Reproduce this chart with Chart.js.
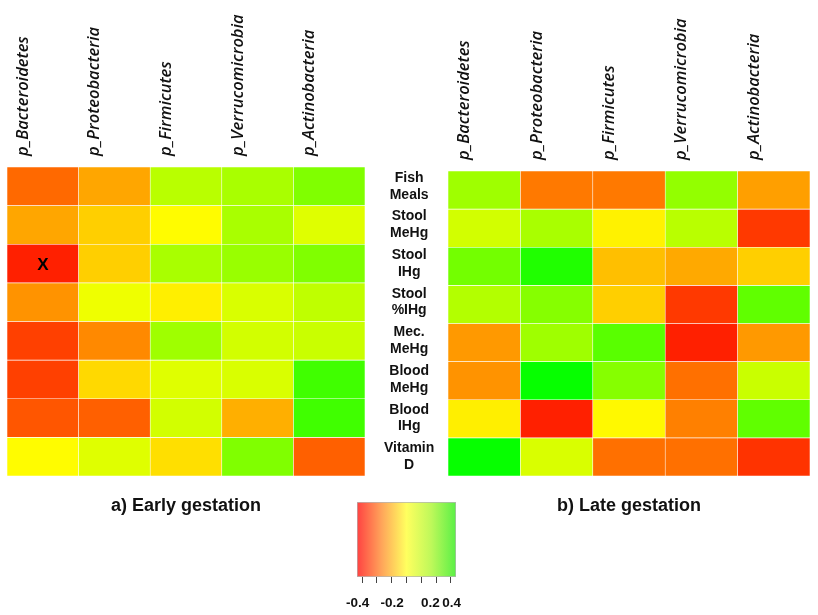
<!DOCTYPE html>
<html>
<head>
<meta charset="utf-8">
<script src="https://cdn.jsdelivr.net/npm/chart.js@4"></script>
<style>
  body { margin: 0; background: #fff; }
  #wrap { position: relative; width: 818px; height: 615px; }
  canvas { position: absolute; }
  #early { left: 0; top: 0; }
  #late { left: 440px; top: 0; }
  #scale { left: 340px; top: 490px; }
</style>
</head>
<body>
<div id="wrap">
  <canvas id="early" width="455" height="525"></canvas>
  <canvas id="late" width="378" height="525"></canvas>
  <canvas id="scale" width="140" height="125"></canvas>
</div>
<script>
// taxa on top, exposures in the middle
const taxa = ['p_Bacteroidetes', 'p_Proteobacteria', 'p_Firmicutes', 'p_Verrucomicrobia', 'p_Actinobacteria'];
const exposures = [['Fish', 'Meals'], ['Stool', 'MeHg'], ['Stool', 'IHg'], ['Stool', '%IHg'],
  ['Mec.', 'MeHg'], ['Blood', 'MeHg'], ['Blood', 'IHg'], ['Vitamin', 'D']];

// correlations, one row per exposure
const earlyFish = [-0.235, -0.14, 0.11, 0.135, 0.2];
const earlyStoolMeHg = [-0.14, -0.075, -0.005, 0.135, 0.05];
const earlyStoolIHg = [-0.35, -0.075, 0.135, 0.16, 0.2];
const earlyStoolPctIHg = [-0.17, 0.025, -0.025, 0.06, 0.1];
const earlyMecMeHg = [-0.3, -0.185, 0.15, 0.07, 0.085];
const earlyBloodMeHg = [-0.3, -0.06, 0.05, 0.06, 0.3];
const earlyBloodIHg = [-0.265, -0.25, 0.07, -0.125, 0.3];
const earlyVitD = [-0.005, 0.05, -0.05, 0.2, -0.25];

const lateFish = [0.15, -0.21, -0.21, 0.17, -0.15];
const lateStoolMeHg = [0.07, 0.135, -0.02, 0.11, -0.31];
const lateStoolIHg = [0.22, 0.35, -0.1, -0.135, -0.075];
const lateStoolPctIHg = [0.12, 0.19, -0.075, -0.31, 0.25];
const lateMecMeHg = [-0.16, 0.15, 0.26, -0.35, -0.16];
const lateBloodMeHg = [-0.17, 0.39, 0.19, -0.225, 0.085];
const lateBloodIHg = [-0.025, -0.35, -0.01, -0.2, 0.25];
const lateVitD = [0.39, 0.06, -0.225, -0.225, -0.32];

// cells flagged in the figure: [row, column]
const flaggedEarly = [[2, 0]];

// colour key: 7 tick marks, 4 labels placed where the figure has them
const keyRange = [-0.445, 0.445];
const keyTickMarks = [-0.4, -0.267, -0.133, 0, 0.133, 0.267, 0.4];
const keyLabelAt = [-0.44, -0.13, 0.215, 0.405];
const keyLabels = ['-0.4', '-0.2', '0.2', '0.4'];

const early = [earlyFish, earlyStoolMeHg, earlyStoolIHg, earlyStoolPctIHg, earlyMecMeHg, earlyBloodMeHg, earlyBloodIHg, earlyVitD];
const late = [lateFish, lateStoolMeHg, lateStoolIHg, lateStoolPctIHg, lateMecMeHg, lateBloodMeHg, lateBloodIHg, lateVitD];

// red -> yellow -> green, saturating at +-0.4
function corrColor(v) {
  let t = Math.max(-1, Math.min(1, v / 0.4));
  if (t < 0) return 'rgb(255,' + Math.round(255 * (1 + t)) + ',0)';
  return 'rgb(' + Math.round(255 * (1 - t)) + ',255,0)';
}

const labelFont = { family: "'Liberation Sans', Arial, sans-serif", weight: 'bold' };

function heatmap(id, values, title, opts) {
  const datasets = values.map((row, r) => ({
    data: row.map(() => [r, r + 1]),
    backgroundColor: row.map(corrColor),
    borderColor: 'rgba(255,255,255,0.45)',
    borderWidth: 0.6,
    borderSkipped: false,
    barPercentage: 1,
    categoryPercentage: 1,
    grouped: false
  }));

  const scales = {
    x: {
      position: 'top',
      grid: { display: false, drawTicks: false },
      border: { display: false },
      ticks: {
        autoSkip: false, minRotation: 90, maxRotation: 90, padding: 11, color: '#111',
        font: { family: "'Open Sans', sans-serif", style: 'italic', weight: '600', size: 16.5 }
      },
      afterFit: s => { s.height = opts.top; }
    },
    y: { display: false, min: 0, max: 8, reverse: true },
    xTitle: {
      type: 'category', labels: taxa, position: 'bottom',
      grid: { display: false, drawTicks: false },
      border: { display: false },
      ticks: { display: false },
      title: {
        display: true, text: title, color: '#111',
        font: Object.assign({ size: 18 }, labelFont),
        padding: { top: 20, bottom: 8 }
      },
      afterFit: s => { s.height = 525 - 476; }
    }
  };
  if (opts.rowLabels) {
    scales.rows = {
      type: 'category', labels: exposures, position: 'right', offset: true,
      grid: { display: false, drawTicks: false },
      border: { display: false },
      ticks: { crossAlign: 'center', padding: 19, color: '#111', font: Object.assign({ size: 14, lineHeight: 1.2 }, labelFont) },
      afterFit: s => { s.width = 90; }
    };
  }

  const plugins = [];
  if (opts.flagged) {
    plugins.push({
      id: 'flags',
      afterDatasetsDraw(chart) {
        const { ctx, scales: { x, y } } = chart;
        ctx.save();
        ctx.font = 'bold 17px "Liberation Sans", Arial, sans-serif';
        ctx.fillStyle = '#000';
        ctx.textAlign = 'center';
        ctx.textBaseline = 'middle';
        opts.flagged.forEach(([r, c]) => {
          ctx.fillText('X', x.getPixelForValue(c), y.getPixelForValue(r + 0.5) + 2);
        });
        ctx.restore();
      }
    });
  }

  return new Chart(document.getElementById(id), {
    type: 'bar',
    data: { labels: taxa, datasets },
    options: {
      responsive: false,
      animation: false,
      layout: { padding: opts.padding },
      plugins: { legend: { display: false }, tooltip: { enabled: false } },
      scales
    },
    plugins
  });
}

heatmap('early', early, 'a) Early gestation', {
  top: 167, rowLabels: true, flagged: flaggedEarly,
  padding: { left: 7, right: 0, top: 0, bottom: 0 }
});
heatmap('late', late, 'b) Late gestation', {
  top: 171,
  padding: { left: 8, right: 8, top: 0, bottom: 0 }
});

// colour key
const keyTicks = keyTickMarks.map(v => ({ value: v, label: '', mark: true }))
  .concat(keyLabelAt.map((v, i) => ({ value: v, label: keyLabels[i], mark: false })))
  .sort((a, b) => a.value - b.value);

new Chart(document.getElementById('scale'), {
  type: 'bar',
  data: {
    labels: [''],
    datasets: [{
      data: [keyRange],
      backgroundColor: c => {
        const area = c.chart.chartArea;
        if (!area) return 'transparent';
        const g = c.chart.ctx.createLinearGradient(area.left, 0, area.right, 0);
        g.addColorStop(0, 'rgb(255,66,66)');
        g.addColorStop(0.25, 'rgb(255,165,90)');
        g.addColorStop(0.5, 'rgb(255,255,95)');
        g.addColorStop(0.75, 'rgb(190,248,90)');
        g.addColorStop(1, 'rgb(90,240,70)');
        return g;
      },
      borderColor: '#b4b4b4',
      borderWidth: 1,
      borderSkipped: false,
      barPercentage: 1,
      categoryPercentage: 1
    }]
  },
  options: {
    indexAxis: 'y',
    responsive: false,
    animation: false,
    layout: { padding: { left: 17, right: 24, top: 12, bottom: 5 } },
    plugins: { legend: { display: false }, tooltip: { enabled: false } },
    scales: {
      y: { display: false },
      x: {
        min: keyRange[0], max: keyRange[1],
        grid: {
          display: true, drawOnChartArea: false, drawTicks: true, tickLength: 6,
          tickColor: c => (keyTicks[c.index] && keyTicks[c.index].mark ? '#444' : 'rgba(0,0,0,0)')
        },
        border: { display: false },
        afterBuildTicks: s => { s.ticks = keyTicks.map(t => ({ value: t.value })); },
        ticks: {
          autoSkip: false, maxRotation: 0, padding: 12, color: '#111',
          font: Object.assign({ size: 13.5 }, labelFont),
          callback: (v, i) => keyTicks[i].label
        },
        afterFit: s => { s.height = 33; s.paddingLeft = 0; s.paddingRight = 0; }
      }
    }
  }
});
</script>
</body>
</html>
